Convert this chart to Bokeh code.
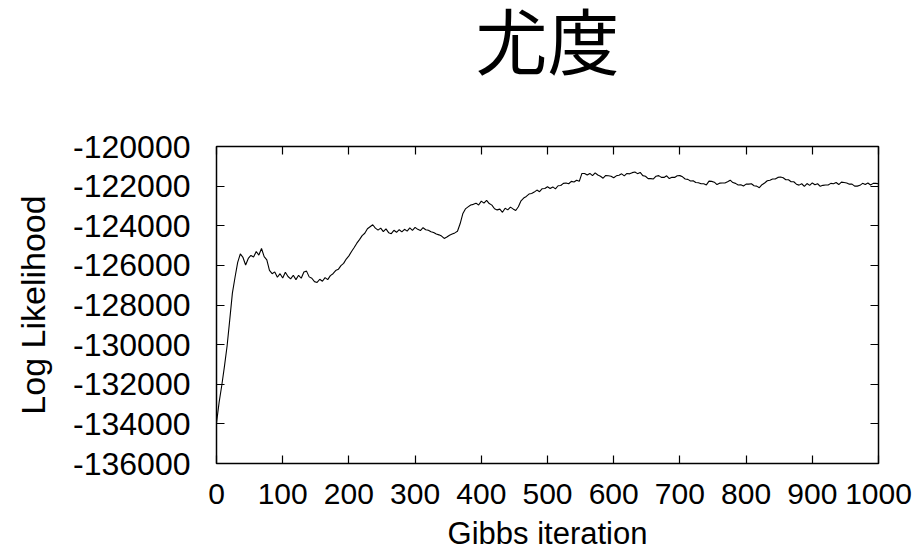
from bokeh.plotting import figure
from bokeh.models import FixedTicker, LinearAxis, Range1d, CustomJSTickFormatter
from bokeh.embed import file_html
from bokeh.resources import INLINE

# Gibbs sampler trace: log likelihood recorded every 4 iterations
iterations = list(range(0, 1001, 4))
log_likelihood = [
    -133950, -132900, -132050, -131100, -130070, -128750, -127400, -126600, -125850, -125420,
    -125600, -125980, -125650, -125500, -125580, -125300, -125480, -125150, -125560, -125720,
    -126250, -126420, -126330, -126600, -126420, -126640, -126350, -126560, -126680, -126500,
    -126720, -126500, -126650, -126330, -126290, -126580, -126650, -126820, -126860, -126700,
    -126800, -126620, -126720, -126520, -126420, -126260, -126200, -126010, -125900, -125680,
    -125520, -125300, -125100, -124880, -124700, -124500, -124380, -124150, -124050, -123950,
    -124120, -124220, -124120, -124300, -124160, -124350, -124400, -124230, -124330, -124200,
    -124310, -124180, -124270, -124110, -124230, -124080, -124180, -124240, -124100, -124200,
    -124230, -124300, -124340, -124420, -124460, -124520, -124640, -124570, -124480, -124420,
    -124360, -124280, -123900, -123400, -123150, -123050, -122950, -122920, -122860, -122950,
    -122760, -122860, -122720, -122880, -122960, -123140, -123200, -123160, -123320, -123120,
    -123200, -123060, -123150, -123230, -123040, -122740, -122600, -122520, -122400, -122370,
    -122300, -122200, -122280, -122130, -122120, -122030, -122120, -122040, -122140, -121980,
    -121970, -121860, -121840, -121880, -121760, -121790, -121700, -121760, -121360, -121360,
    -121440, -121360, -121470, -121330, -121440, -121500, -121600, -121460, -121480, -121500,
    -121580, -121480, -121450, -121380, -121480, -121360, -121380, -121320, -121290, -121370,
    -121310, -121470, -121500, -121620, -121620, -121640, -121500, -121470, -121560, -121560,
    -121480, -121620, -121550, -121560, -121480, -121470, -121530, -121640, -121660, -121740,
    -121730, -121820, -121830, -121880, -121880, -121940, -121750, -121760, -121800, -121920,
    -121850, -121840, -121840, -121780, -121700, -121820, -121860, -121940, -121930, -121990,
    -121900, -121900, -121880, -121980, -122000, -122080, -121930, -121840, -121730, -121700,
    -121640, -121640, -121560, -121540, -121580, -121680, -121680, -121780, -121780, -121900,
    -121950, -121880, -122010, -121870, -121960, -121840, -121930, -121880, -122010, -121960,
    -121940, -121940, -121860, -121880, -121820, -121920, -121800, -121820, -121840, -121900,
    -121900, -122000, -122000, -121960, -121860, -121920, -121840, -121940, -121860, -121860,
    -121880,
]

x_ticks = [0, 100, 200, 300, 400, 500, 600, 700, 800, 900, 1000]
y_ticks = [-136000, -134000, -132000, -130000, -128000, -126000, -124000, -122000, -120000]

title_text = "尤度"
x_label = "Gibbs iteration"
y_label = "Log Likelihood"

LATIN = "Liberation Sans"

p = figure(
    title=None,
    frame_width=662, frame_height=317,
    min_border_left=216, min_border_right=44,
    min_border_top=146, min_border_bottom=93,
    x_range=Range1d(0, 1000), y_range=Range1d(-136000, -120000),
    output_backend="svg", toolbar_location=None,
    background_fill_color="white", border_fill_color="white",
)

p.outline_line_color = "black"
p.outline_line_width = 1.5
p.xgrid.visible = False
p.ygrid.visible = False

p.line(iterations, log_likelihood, line_color="black", line_width=1.1)

# plain integers with an ASCII hyphen for negatives
plain = CustomJSTickFormatter(code="return String(Math.round(tick));")
blank = CustomJSTickFormatter(code="return '';")

def style_axis(ax, ticks):
    ax.ticker = FixedTicker(ticks=ticks)
    ax.axis_line_color = None
    ax.major_tick_in = 8
    ax.major_tick_out = 0
    ax.major_tick_line_color = "black"
    ax.major_tick_line_width = 1.2
    ax.minor_tick_line_color = None
    ax.major_label_text_font = LATIN
    ax.major_label_text_color = "black"
    ax.axis_label_text_font = LATIN
    ax.axis_label_text_font_style = "normal"
    ax.axis_label_text_color = "black"

xa = p.xaxis[0]
style_axis(xa, x_ticks)
xa.formatter = plain
xa.major_label_text_font_size = "30px"
xa.major_label_standoff = 20
xa.axis_label = x_label
xa.axis_label_text_font_size = "31px"
xa.axis_label_standoff = 9

ya = p.yaxis[0]
style_axis(ya, y_ticks)
ya.formatter = plain
ya.major_label_text_font_size = "32px"
ya.major_label_standoff = 26
ya.axis_label = y_label
ya.axis_label_text_font_size = "34px"
ya.axis_label_standoff = 18

# mirrored ticks on the top and right edges, without tick labels;
# the top axis carries the chart heading as its label
for loc, ticks in (("above", x_ticks), ("right", y_ticks)):
    ax = LinearAxis()
    style_axis(ax, ticks)
    ax.formatter = blank
    ax.major_label_text_font_size = "1px"
    ax.major_label_standoff = 0
    if loc == "above":
        ax.axis_label = title_text
        ax.axis_label_text_font = "Liberation Sans, Noto Sans CJK JP"
        ax.axis_label_text_font_size = "72px"
        ax.axis_label_standoff = 63
    p.add_layout(ax, loc)

open("out.html", "w").write(file_html(p, INLINE))
